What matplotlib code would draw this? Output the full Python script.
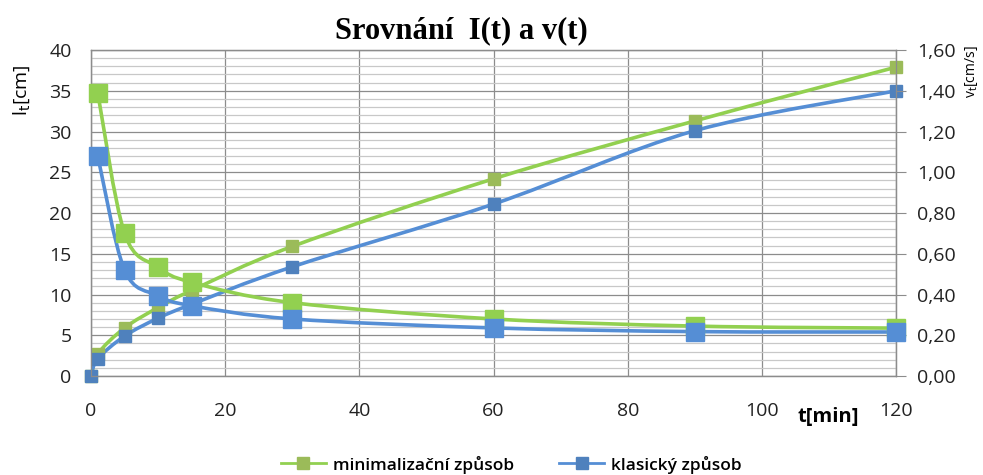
"""Srovnání l(t) a v(t): minimalizační vs. klasický způsob."""

import matplotlib
matplotlib.use("Agg")
import matplotlib.pyplot as plt
from matplotlib.path import Path
from matplotlib.patches import PathPatch
from matplotlib.ticker import MultipleLocator, FuncFormatter

# time [min]
t_len_min = [0, 1, 5, 10, 15, 30, 60, 90, 120]
t_len_kla = [0, 1, 5, 10, 15, 30, 60, 90, 120]
t_vel = [1, 5, 10, 15, 30, 60, 90, 120]

# l_t [cm]
len_min = [0, 2.7, 5.9, 8.4, 10.5, 15.9, 24.2, 31.3, 37.9]
len_kla = [0, 2.1, 4.9, 7.1, 8.8, 13.4, 21.1, 30.1, 35.0]

# v_t [cm/s]
vel_min = [1.39, 0.70, 0.535, 0.46, 0.36, 0.28, 0.245, 0.235]
vel_kla = [1.08, 0.52, 0.395, 0.345, 0.28, 0.236, 0.218, 0.216]

GREEN_LINE = "#92D050"
GREEN_MARK = "#9BBB59"
BLUE_LINE = "#558ED5"
BLUE_MARK = "#4F81BD"


def smooth_path(xs, ys):
    # Excel-like smoothed line: Catmull-Rom segments as cubic Bezier
    verts = [(xs[0], ys[0])]
    codes = [Path.MOVETO]
    n = len(xs)
    for i in range(n - 1):
        x0, y0 = (xs[i - 1], ys[i - 1]) if i > 0 else (xs[i], ys[i])
        x1, y1 = xs[i], ys[i]
        x2, y2 = xs[i + 1], ys[i + 1]
        x3, y3 = (xs[i + 2], ys[i + 2]) if i + 2 < n else (x2, y2)
        c1 = (x1 + (x2 - x0) / 6, y1 + (y2 - y0) / 6)
        c2 = (x2 - (x3 - x1) / 6, y2 - (y3 - y1) / 6)
        verts += [c1, c2, (x2, y2)]
        codes += [Path.CURVE4] * 3
    return Path(verts, codes)


def draw_series(ax, xs, ys, line_color, mark_color, ms):
    ax.add_patch(PathPatch(smooth_path(xs, ys), facecolor="none",
                           edgecolor=line_color, linewidth=2.6, zorder=3))
    ax.plot(xs, ys, linestyle="none", marker="s", markersize=ms,
            color=mark_color, markeredgecolor=mark_color, zorder=4,
            clip_on=False)


fig = plt.figure(figsize=(9.83, 4.75), dpi=100)
ax = fig.add_axes([0.0926, 0.2084, 0.819, 0.6863])
ax2 = ax.twinx()

ax.set_xlim(0, 120)
ax.set_ylim(0, 40)
ax2.set_ylim(0, 1.6)

ax.xaxis.set_major_locator(MultipleLocator(20))
ax.yaxis.set_major_locator(MultipleLocator(5))
ax.yaxis.set_minor_locator(MultipleLocator(1))
ax2.yaxis.set_major_locator(MultipleLocator(0.2))
ax2.yaxis.set_major_formatter(FuncFormatter(lambda v, p: f"{v:.2f}".replace(".", ",")))

ax.grid(True, which="major", color="#8c8c8c", linewidth=0.9)
ax.grid(True, which="minor", axis="y", color="#c8c8c8", linewidth=0.9)
ax.set_axisbelow(True)

for a in (ax, ax2):
    for s in a.spines.values():
        s.set_color("#8c8c8c")
        s.set_linewidth(0.9)

ax.tick_params(axis="both", which="both", length=0, labelsize=14,
               labelcolor="#222222")
ax.tick_params(axis="y", pad=14)
ax.tick_params(axis="x", pad=19)
ax2.tick_params(axis="y", length=7, color="#8c8c8c", labelsize=14,
                labelcolor="#222222", pad=8)
for lab in ax.get_xticklabels() + ax.get_yticklabels() + ax2.get_yticklabels():
    lab.set_family("Open Sans")

draw_series(ax, t_len_min, len_min, GREEN_LINE, GREEN_MARK, 9)
draw_series(ax, t_len_kla, len_kla, BLUE_LINE, BLUE_MARK, 9)
draw_series(ax2, t_vel, vel_min, GREEN_LINE, GREEN_LINE, 13)
draw_series(ax2, t_vel, vel_kla, BLUE_LINE, BLUE_LINE, 13)

fig.text(0.469, 0.935, "Srovnání  I(t) a v(t)", ha="center", va="center",
         family="Liberation Serif", fontweight="bold", fontsize=22)
fig.text(0.022, 0.81, r"l$_\mathrm{t}$[cm]", rotation=90, ha="center",
         va="center", fontsize=14, family="Open Sans")
fig.text(0.988, 0.85, r"v$_\mathrm{t}$[cm/s]", rotation=90, ha="center",
         va="center", fontsize=10, family="Open Sans")
fig.text(0.843, 0.122, "t[min]", ha="center", va="center", fontsize=14.5,
         fontweight="bold", family="Open Sans")

h1, = ax.plot([], [], color=GREEN_LINE, linewidth=2, marker="s",
              markersize=8, markerfacecolor=GREEN_MARK, markeredgecolor=GREEN_MARK)
h2, = ax.plot([], [], color=BLUE_LINE, linewidth=2, marker="s",
              markersize=8, markerfacecolor=BLUE_MARK, markeredgecolor=BLUE_MARK)
fig.legend([h1, h2], ["minimalizační způsob", "klasický způsob"],
           loc="center", bbox_to_anchor=(0.52, 0.022), ncol=2, frameon=False,
           prop={"family": "Open Sans", "size": 12.5, "weight": 600},
           columnspacing=2.6, handlelength=2.6, handletextpad=0.4)

fig.savefig("out.png", dpi=100)
